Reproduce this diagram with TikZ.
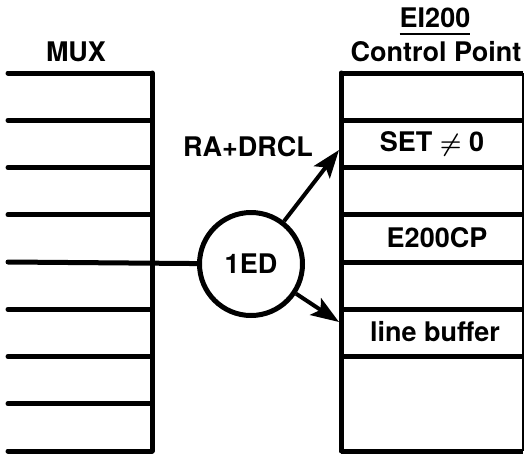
\documentclass[tikz,border=0pt]{standalone}
\usepackage{fontspec}
\setmainfont{TeX Gyre Heros}
\usetikzlibrary{arrows.meta,calc}
\begin{document}
\begin{tikzpicture}[x=1pt,y=-1pt,
  rule/.style={line width=5pt,line cap=round},
  lbl/.style={font=\fontsize{27}{30}\selectfont\bfseries, inner sep=0pt},
  arr/.style={line width=4pt,-{Stealth[length=28pt,width=20pt,inset=6pt]}}]
\useasboundingbox (0,0) rectangle (527,453);
% MUX stack
\foreach \i in {0,...,8}{
  \coordinate (ml\i) at (8,73+47.25*\i);
  \coordinate (mr\i) at (152,73+47.25*\i);
}
\foreach \i in {0,1,2,3,5,6,7,8}{ \draw[rule] (ml\i) -- (mr\i); }
\draw[rule] (mr0) -- (mr8);
% Control point stack
\foreach \i in {0,...,6}{
  \coordinate (cl\i) at (341,73+47.25*\i);
  \coordinate (cr\i) at (523,73+47.25*\i);
}
\coordinate (cl7) at (341,451);
\coordinate (cr7) at (523,451);
\foreach \i in {0,...,7}{ \draw[rule,line cap=butt] (cl\i) -- (cr\i); }
\draw[rule] (cl0) -- (cl7);
\draw[line width=1.5pt] (cr0) -- (cr7);
% labels
\node[lbl] (mux) at (76,52) {MUX};
\node[lbl] (ei) at (435,18) {EI200};
\draw[line width=2.5pt] ($(ei.south west)+(0,6)$) -- ($(ei.south east)+(0,6)$);
\node[lbl] (cp) at (436,52) {Control Point};
\node[lbl] (ra) at (248,147) {RA+DRCL};
\node[lbl] (set) at (432,144) {SET {\boldmath$\neq$} 0};
\node[lbl] (e2) at (437,238) {E200CP};
\node[lbl] (lb) at (435,332) {line buffer};
% circle
\node[draw,circle,line width=5pt,minimum size=103pt,inner sep=0pt,font=\fontsize{27}{30}\selectfont\bfseries] (c) at (251,264) {1ED};
\draw[rule] (ml4) -- (c);
\coordinate (t1) at (339,150);
\coordinate (t2) at (339,322);
\draw[arr] (c) -- (t1);
\draw[arr] (c) -- (t2);
\end{tikzpicture}
\end{document}
